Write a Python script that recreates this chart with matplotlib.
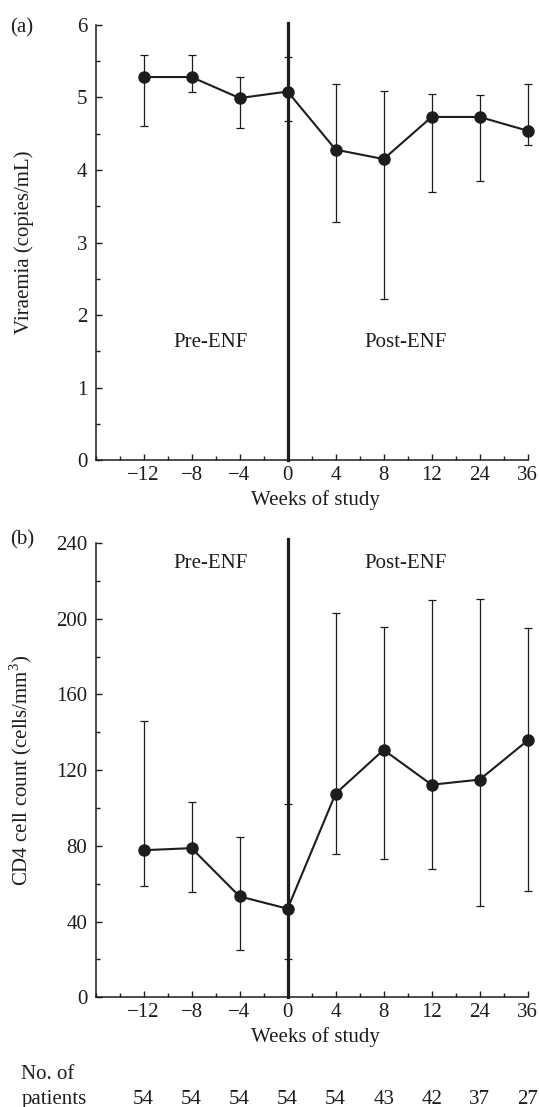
import numpy as np
import matplotlib
matplotlib.use("Agg")
import matplotlib.pyplot as plt
import matplotlib.transforms as mtransforms
from matplotlib.ticker import MultipleLocator

# weeks of study (plotted as evenly spaced categories)
weeks = ["\u221212", "\u22128", "\u22124", "0", "4", "8", "12", "24", "36"]
n_patients = [54, 54, 54, 54, 54, 43, 42, 37, 27]

# (a) viraemia, log10 copies/mL
vir_mid = [5.28, 5.28, 4.99, 5.08, 4.28, 4.15, 4.73, 4.73, 4.54]
vir_low = [4.60, 5.08, 4.58, 4.68, 3.28, 2.22, 3.69, 3.85, 4.35]
vir_high = [5.58, 5.58, 5.28, 5.55, 5.19, 5.09, 5.05, 5.03, 5.19]

# (b) CD4 cell count, cells/mm3
cd4_mid = [77.7, 78.8, 53.3, 46.8, 107.6, 130.7, 112.3, 115.0, 135.7]
cd4_low = [59.0, 55.6, 24.9, 20.3, 75.5, 73.0, 67.7, 48.3, 56.3]
cd4_high = [146.0, 103.4, 84.6, 102.3, 203.1, 195.6, 209.9, 210.2, 194.9]

ink = "#1e1c1d"
plt.rcParams["font.family"] = ["Liberation Serif", "DejaVu Serif"]
plt.rcParams["font.size"] = 15
plt.rcParams["text.color"] = ink
plt.rcParams["axes.labelcolor"] = ink
plt.rcParams["xtick.color"] = ink
plt.rcParams["ytick.color"] = ink
plt.rcParams["mathtext.fontset"] = "custom"
plt.rcParams["mathtext.rm"] = "Liberation Serif"

W, H = 539, 1107
fig = plt.figure(figsize=(W / 100, H / 100), dpi=100)

left = 95.5 / W
width = 432.2 / W
ax_a = fig.add_axes([left, 1 - 460.4 / H, width, 435.65 / H])
ax_b = fig.add_axes([left, 1 - 997.3 / H, width, 454.3 / H])

x = np.arange(len(weeks))


def draw_panel(ax, mid, low, high, ymax, ystep, ytext, ylabel, vline_top):
    mid = np.array(mid)
    err = [mid - np.array(low), np.array(high) - mid]
    eb = ax.errorbar(x, mid, yerr=err, fmt="none", ecolor=ink, elinewidth=0.9,
                     capsize=2.6, capthick=0.9, zorder=2)
    for art in eb.get_children():
        art.set_clip_on(False)
    ax.plot(x, mid, color=ink, lw=1.5, marker="o", ms=8, zorder=3,
            clip_on=False)
    ax.axvline(3, ymin=0, ymax=vline_top, color=ink, lw=2.3,
               clip_on=False, zorder=1)

    ax.set_xlim(-1, 8)
    ax.set_ylim(0, ymax)
    ax.set_xticks(x)
    ax.set_xticklabels(weeks)
    ax.xaxis.set_minor_locator(MultipleLocator(0.5))
    ax.yaxis.set_major_locator(MultipleLocator(ystep))
    ax.yaxis.set_minor_locator(MultipleLocator(ystep / 2))
    ax.tick_params(which="both", direction="in", width=1.0)
    ax.tick_params(which="major", length=4.5)
    ax.tick_params(which="minor", length=3)
    ax.tick_params(axis="x", which="major", pad=4)
    ax.tick_params(axis="y", which="major", pad=6)

    for s in ["top", "right"]:
        ax.spines[s].set_visible(False)
    for s in ["left", "bottom"]:
        ax.spines[s].set_linewidth(1.1)
        ax.spines[s].set_color(ink)

    ax.text(1.4, ytext, "Pre-ENF", ha="center", va="center")
    ax.text(5.46, ytext, "Post-ENF", ha="center", va="center")

    ax.set_xlabel("Weeks of study")
    ax.set_ylabel(ylabel)
    ax.yaxis.set_label_coords(-0.142, 0.5)


draw_panel(ax_a, vir_mid, vir_low, vir_high, 6, 1, 1.63,
           "Viraemia (copies/mL)", 6.02 / 6)
ax_a.xaxis.set_label_coords(0.509, -0.068)

draw_panel(ax_b, cd4_mid, cd4_low, cd4_high, 240, 40, 229.3,
           "CD4 cell count (cells/mm$^{3}$)", 242.1 / 240)
ax_b.xaxis.set_label_coords(0.509, -0.065)

fig.text(21.7 / W, 1 - 28 / H, "(a)", ha="center", va="center")
fig.text(22 / W, 1 - 540 / H, "(b)", ha="center", va="center")

# patient counts under the lower panel
fig.text(21.3 / W, 1 - 1079 / H, "No. of", ha="left", va="baseline")
fig.text(21.3 / W, 1 - 1104 / H, "patients", ha="left", va="baseline")
trans = mtransforms.blended_transform_factory(ax_b.transData, fig.transFigure)
for xi, n in zip(x, n_patients):
    ax_b.text(xi, 1 - 1104 / H, str(n), transform=trans, ha="center",
              va="baseline", clip_on=False)

fig.savefig("out.png", dpi=100)
